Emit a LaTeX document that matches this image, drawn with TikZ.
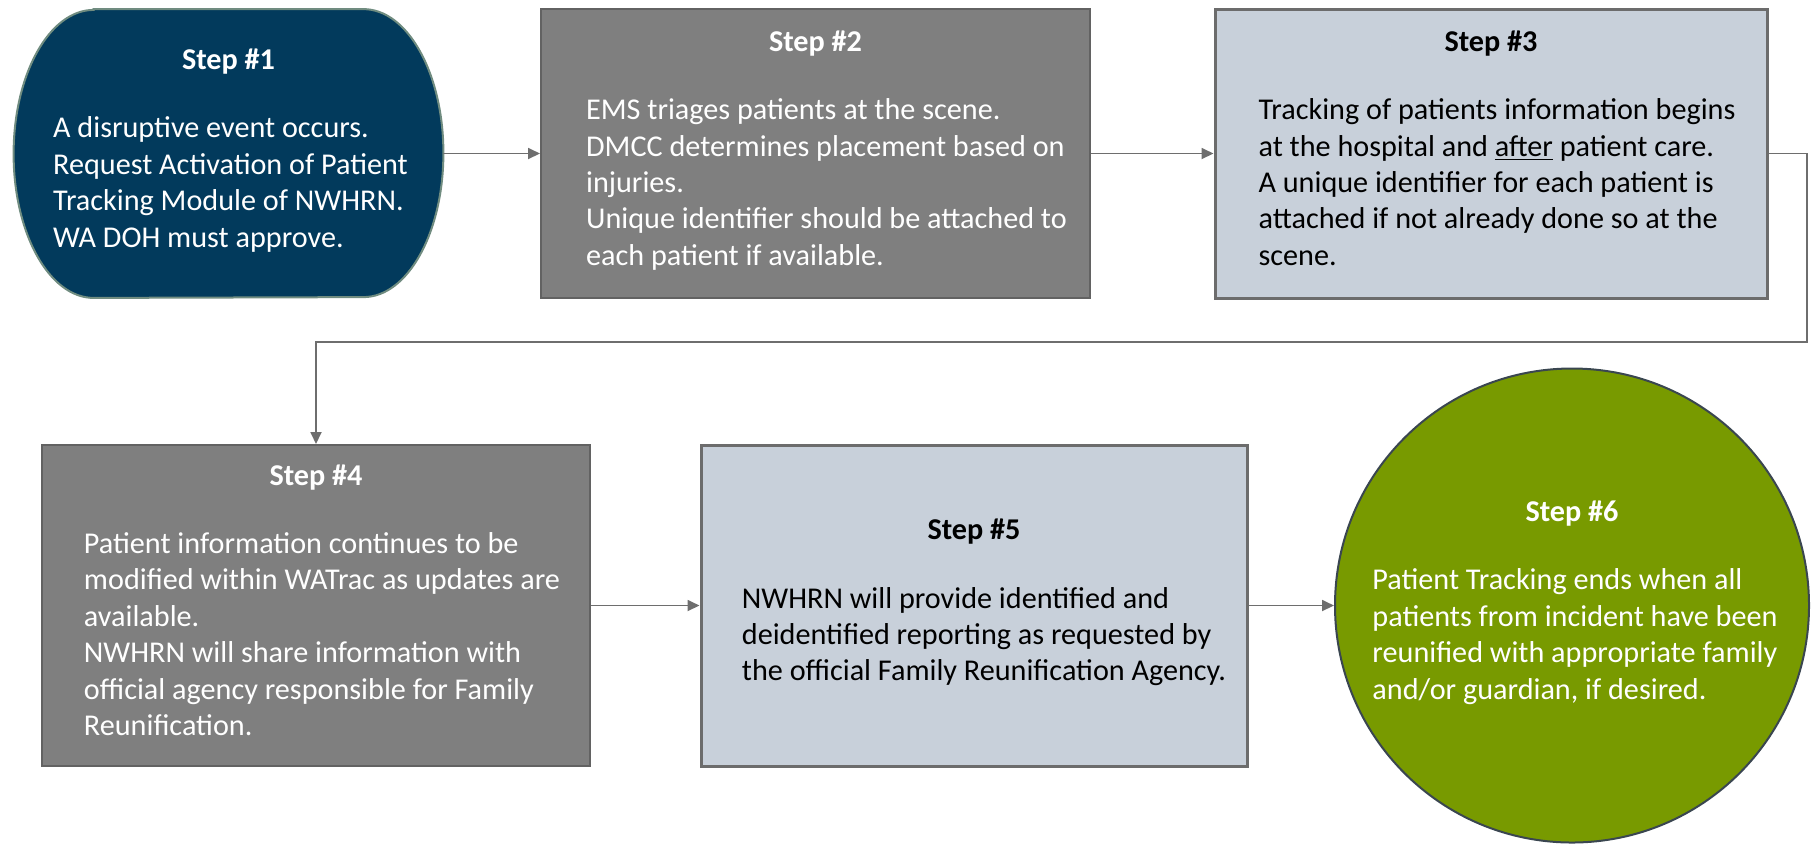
\documentclass[tikz,border=0pt]{standalone}
\usepackage{fontspec}
\setmainfont{Carlito}
\usetikzlibrary{arrows.meta,backgrounds}
\definecolor{navy}{RGB}{2,58,92}
\definecolor{navyline}{RGB}{112,140,128}
\definecolor{boxgrey}{RGB}{127,127,127}
\definecolor{boxgreyline}{RGB}{98,98,98}
\definecolor{boxlight}{RGB}{200,208,218}
\definecolor{boxlightline}{RGB}{108,108,108}
\definecolor{olive}{RGB}{120,154,0}
\definecolor{oliveline}{RGB}{58,70,80}
\definecolor{arrowgrey}{RGB}{110,110,110}
\newcommand\stepbody[3][0pt]{\textbf{#2}\\[16pt]\hspace*{#1}\begin{tabular}[t]{@{}l@{}}#3\end{tabular}}
\tikzset{
  box/.style={rectangle, inner sep=0pt, align=center, font=\fontsize{15.1}{18.2}\selectfont},
  greybox/.style={box, fill=boxgrey, draw=boxgreyline, line width=1pt, text=white},
  lightbox/.style={box, fill=boxlight, draw=boxlightline, line width=1.5pt, text=black},
  arr/.style={draw=arrowgrey, line width=0.9pt, -{Triangle[length=6pt,width=5.5pt]}},
}
\begin{document}
\begin{tikzpicture}[x=0.5pt,y=-0.5pt]
\useasboundingbox (0,0) rectangle (1814,843);

\node[box, text=white, minimum width=214.5pt, minimum height=144pt] (s1) at (228.5,153.5)
  {\stepbody[2pt]{Step \#1}{A disruptive event occurs.\\Request Activation of Patient\\Tracking Module of NWHRN.\\WA DOH must approve.}};
\begin{scope}[on background layer]
\path[fill=navy, draw=navyline, line width=1pt]
  ([xshift=40pt]s1.north west) -- ([xshift=-40pt]s1.north east)
  arc[start angle=90, end angle=-90, x radius=40pt, y radius=72pt]
  -- ([xshift=40pt]s1.south west)
  arc[start angle=270, end angle=90, x radius=40pt, y radius=72pt] -- cycle;
\end{scope}

\node[greybox, minimum width=274.5pt, minimum height=144.5pt] (s2) at (815.5,153.5)
  {\stepbody[11pt]{Step \#2}{EMS triages patients at the scene.\\DMCC determines placement based on\\injuries.\\Unique identifier should be attached to\\each patient if available.}};

\node[lightbox, minimum width=276pt, minimum height=144.5pt] (s3) at (1491,153.5)
  {\stepbody[6pt]{Step \#3}{Tracking of patients information begins\\at the hospital and \underline{after} patient care.\\A unique identifier for each patient is\\attached if not already done so at the\\scene.}};

\node[greybox, minimum width=274pt, minimum height=160.5pt] (s4) at (316,605.5)
  {\stepbody[6pt]{Step \#4}{Patient information continues to be\\modified within WATrac as updates are\\available.\\NWHRN will share information with\\official agency responsible for Family\\Reunification.}};

\node[lightbox, minimum width=273pt, minimum height=160.5pt] (s5) at (974,605.5)
  {\stepbody[10pt]{Step \#5}{NWHRN will provide identified and\\deidentified reporting as requested by\\the official Family Reunification Agency.}};

\node[box, circle, fill=olive, draw=oliveline, line width=1pt, text=white, minimum size=237pt] (s6) at (1572,605.5)
  {\stepbody[3pt]{Step \#6}{Patient Tracking ends when all\\patients from incident have been\\reunified with appropriate family\\and/or guardian, if desired.}};

\coordinate (c1) at (1807,342);
\draw[arr] (s1.east) -- (s2.west);
\draw[arr] (s2.east) -- (s3.west);
\draw[arr] (s3.east) -| (c1) -| (s4.north);
\draw[arr] (s4.east) -- (s5.west);
\draw[arr] (s5.east) -- (s6.west);
\end{tikzpicture}
\end{document}
